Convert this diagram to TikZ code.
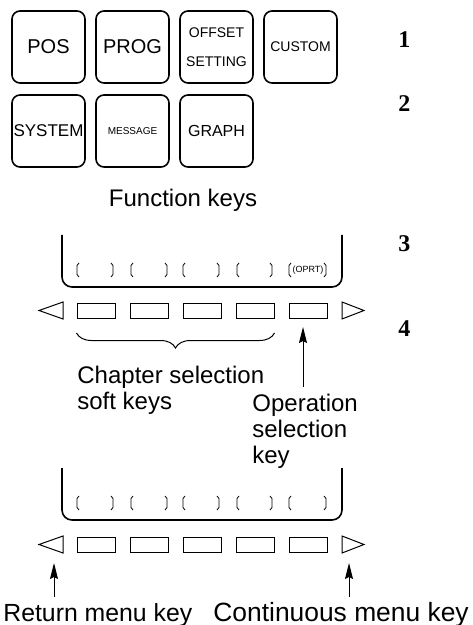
\documentclass[tikz,border=0pt]{standalone}
\usepackage{fontspec}
\setmainfont{Liberation Sans}
\newfontfamily\stepnumfont{Liberation Serif}
\usetikzlibrary{arrows.meta}
\usetikzlibrary{decorations.pathreplacing}
\usetikzlibrary{positioning}

\tikzset{
  fkey/.style={draw,rounded corners=4pt,line width=0.8pt,minimum width=36.5pt,minimum height=36pt,inner sep=0pt,align=center},
  softkey/.style={draw,line width=0.5pt,minimum width=19pt,minimum height=7.5pt,inner sep=0pt},
  panel/.style={line width=0.8pt,rounded corners=5pt},
  lbl/.style={font=\fontsize{12}{13}\selectfont,inner sep=0pt},
  stepnum/.style={font=\stepnumfont\bfseries\fontsize{12}{12}\selectfont,inner sep=0pt,anchor=base west},
  brk/.style={line width=0.4pt},
  arr/.style={-{Stealth[length=8pt,width=4pt,inset=1pt]},line width=0.5pt},
}

\begin{document}
\begin{tikzpicture}[x=0.5pt,y=-0.5pt]
\useasboundingbox (0,0) rectangle (472,625);

% function keys
\node[fkey,font=\fontsize{10}{10}\selectfont] (pos) at (48.5,47) {POS};
\node[fkey,font=\fontsize{10}{10}\selectfont] (prog) at (132.5,47) {PROG};
\node[fkey,font=\fontsize{7}{14.5}\selectfont] (offset) at (216.5,47) {OFFSET\\SETTING};
\node[fkey,font=\fontsize{7}{7}\selectfont] (custom) at (300.5,47) {CUSTOM};
\node[fkey,font=\fontsize{8.5}{8.5}\selectfont] (system) at (48.5,131) {SYSTEM};
\node[fkey,font=\fontsize{5}{5}\selectfont] (message) at (132.5,131) {MESSAGE};
\node[fkey,font=\fontsize{8}{8}\selectfont] (graph) at (216.5,131) {GRAPH};
\node[lbl,anchor=base] (fkeys) at (183,207) {Function keys};

% first screen
\draw[panel] (62,235) -- (62,287) -- (342,287) -- (342,235);
\draw[brk] (79,263) -- (77,265.5) -- (77,274.5) -- (79,277);
\draw[brk] (111,263) -- (113,265.5) -- (113,274.5) -- (111,277);
\draw[brk] (133,263) -- (131,265.5) -- (131,274.5) -- (133,277);
\draw[brk] (165,263) -- (167,265.5) -- (167,274.5) -- (165,277);
\draw[brk] (185,263) -- (183,265.5) -- (183,274.5) -- (185,277);
\draw[brk] (217,263) -- (219,265.5) -- (219,274.5) -- (217,277);
\draw[brk] (239,263) -- (237,265.5) -- (237,274.5) -- (239,277);
\draw[brk] (270,263) -- (272,265.5) -- (272,274.5) -- (270,277);
\draw[brk] (291,263) -- (289,265.5) -- (289,274.5) -- (291,277);
\node[font=\fontsize{4.5}{4.5}\selectfont,inner sep=0pt] (oprt) at (308,270) {(OPRT)};
\draw[brk] (324,263) -- (326,265.5) -- (326,274.5) -- (324,277);

\draw[line width=0.5pt] (63,302) -- (39,310.5) -- (63,319) -- cycle;
\node[softkey] (ka1) at (96,310.5) {};
\node[softkey] (ka2) at (149,310.5) {};
\node[softkey] (ka3) at (202,310.5) {};
\node[softkey] (ka4) at (255,310.5) {};
\node[softkey] (ka5) at (308,310.5) {};
\draw[line width=0.5pt] (342,302) -- (364,310.5) -- (342,319) -- cycle;

\draw[decorate,decoration={brace,amplitude=7.5pt,mirror},line width=0.5pt] (ka1.south west |- 0,333) -- (ka4.south east |- 0,333);
\node[lbl,anchor=north west,align=left] (chsel) at (77,366) {Chapter selection\\soft keys};

\coordinate (opTail) at (303,387);
\coordinate (opTip) at (303,327);
\draw[arr] (opTail) -- (opTip);
\node[lbl,anchor=north west,align=left] (opsel) at (252,394) {Operation\\selection\\key};

% second screen
\draw[panel] (62,468) -- (62,520) -- (342,520) -- (342,468);
\draw[brk] (79,496) -- (77,498.5) -- (77,507.5) -- (79,510);
\draw[brk] (111,496) -- (113,498.5) -- (113,507.5) -- (111,510);
\draw[brk] (133,496) -- (131,498.5) -- (131,507.5) -- (133,510);
\draw[brk] (165,496) -- (167,498.5) -- (167,507.5) -- (165,510);
\draw[brk] (185,496) -- (183,498.5) -- (183,507.5) -- (185,510);
\draw[brk] (217,496) -- (219,498.5) -- (219,507.5) -- (217,510);
\draw[brk] (239,496) -- (237,498.5) -- (237,507.5) -- (239,510);
\draw[brk] (270,496) -- (272,498.5) -- (272,507.5) -- (270,510);
\draw[brk] (291,496) -- (289,498.5) -- (289,507.5) -- (291,510);
\draw[brk] (324,496) -- (326,498.5) -- (326,507.5) -- (324,510);

\draw[line width=0.5pt] (63,536) -- (39,544.5) -- (63,553) -- cycle;
\node[softkey] (kb1) at (96,544.5) {};
\node[softkey] (kb2) at (149,544.5) {};
\node[softkey] (kb3) at (202,544.5) {};
\node[softkey] (kb4) at (255,544.5) {};
\node[softkey] (kb5) at (308,544.5) {};
\draw[line width=0.5pt] (342,536) -- (364,544.5) -- (342,553) -- cycle;

\coordinate (retTail) at (54,597);
\coordinate (retTip) at (54,563);
\draw[arr] (retTail) -- (retTip);
\coordinate (contTail) at (349,597);
\coordinate (contTip) at (349,563);
\draw[arr] (contTail) -- (contTip);
\node[font=\fontsize{12.4}{13}\selectfont,inner sep=0pt,anchor=base west] (retkey) at (3,621) {Return menu key};
\node[font=\fontsize{13.2}{14}\selectfont,inner sep=0pt,anchor=base west] (contkey) at (213,621) {Continuous menu key};

% step numbers
\node[stepnum] (n1) at (398,48) {1};
\node[stepnum] (n2) at (398,112) {2};
\node[stepnum] (n3) at (398,252) {3};
\node[stepnum] (n4) at (398,336) {4};

\end{tikzpicture}
\end{document}
